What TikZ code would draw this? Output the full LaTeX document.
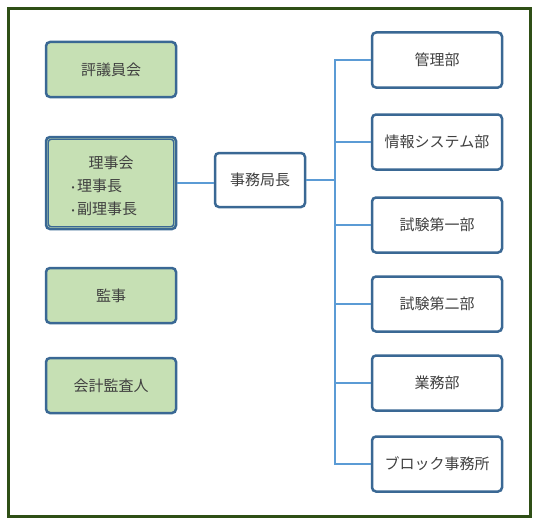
\documentclass[tikz,border=0pt]{standalone}
\usepackage{fontspec}
\setmainfont{Noto Sans CJK JP}
\usepackage{xcolor}
\definecolor{framegreen}{HTML}{2F4F16}
\definecolor{boxblue}{HTML}{3A6894}
\definecolor{linkblue}{HTML}{5B9BD5}
\definecolor{boxgreen}{HTML}{C6E0B4}
\definecolor{txtgray}{HTML}{404040}

\begin{document}
\begin{tikzpicture}[x=1pt,y=-1pt,
    every node/.style={font=\fontsize{15}{17}\selectfont, text=txtgray},
    unit/.style={draw=boxblue, line width=2.5pt, rounded corners=4pt,
      minimum width=130pt, minimum height=55pt, inner sep=0pt},
    board/.style={unit, fill=boxgreen},
    dept/.style={unit, fill=white},
    link/.style={draw=linkblue, line width=2.2pt}]
    \useasboundingbox (0,0) rectangle (540,527);
    \draw[framegreen, line width=3pt] (8,9) rectangle (530,516);
    % left column
    \node[board] (hyogi) at (111,69.5) {評議員会};
    \node[board, minimum height=92pt] (riji) at (111,183) {};
    \draw[boxblue, line width=1.4pt, rounded corners=3pt]
      ([shift={(3.5pt,-3.5pt)}]riji.north west) rectangle ([shift={(-3.5pt,3.5pt)}]riji.south east);
    \node (rijititle) at (111,163) {理事会};
    \node[anchor=west] (rijicho) at (68,186)
      {\raisebox{1.5pt}{\fontsize{9}{9}\selectfont •}\,理事長};
    \node[anchor=west] (fukuriji) at (68,209)
      {\raisebox{1.5pt}{\fontsize{9}{9}\selectfont •}\,副理事長};
    \node[board] (kanji) at (111,295.5) {監事};
    \node[board] (kaikei) at (111,385.5) {会計監査人};
    % secretariat
    \node[dept, minimum width=90pt, minimum height=54pt] (jimu) at (260,180) {事務局長};
    % right column
    \node[dept] (kanri) at (437,60) {管理部};
    \node[dept] (joho) at (437,142) {情報システム部};
    \node[dept] (shiken1) at (437,225) {試験第一部};
    \node[dept] (shiken2) at (437,304) {試験第二部};
    \node[dept] (gyomu) at (437,383) {業務部};
    \node[dept] (block) at (437,464) {ブロック事務所};
    \coordinate (bus) at (335,180);
    % connectors
    \draw[link] (riji.east) -- (jimu.west |- riji.east);
    \draw[link] (jimu.east) -- (bus);
    \foreach \d in {kanri,joho,shiken1,shiken2,gyomu,block}
      \draw[link] (\d.west) -| (bus);
\end{tikzpicture}
\end{document}
